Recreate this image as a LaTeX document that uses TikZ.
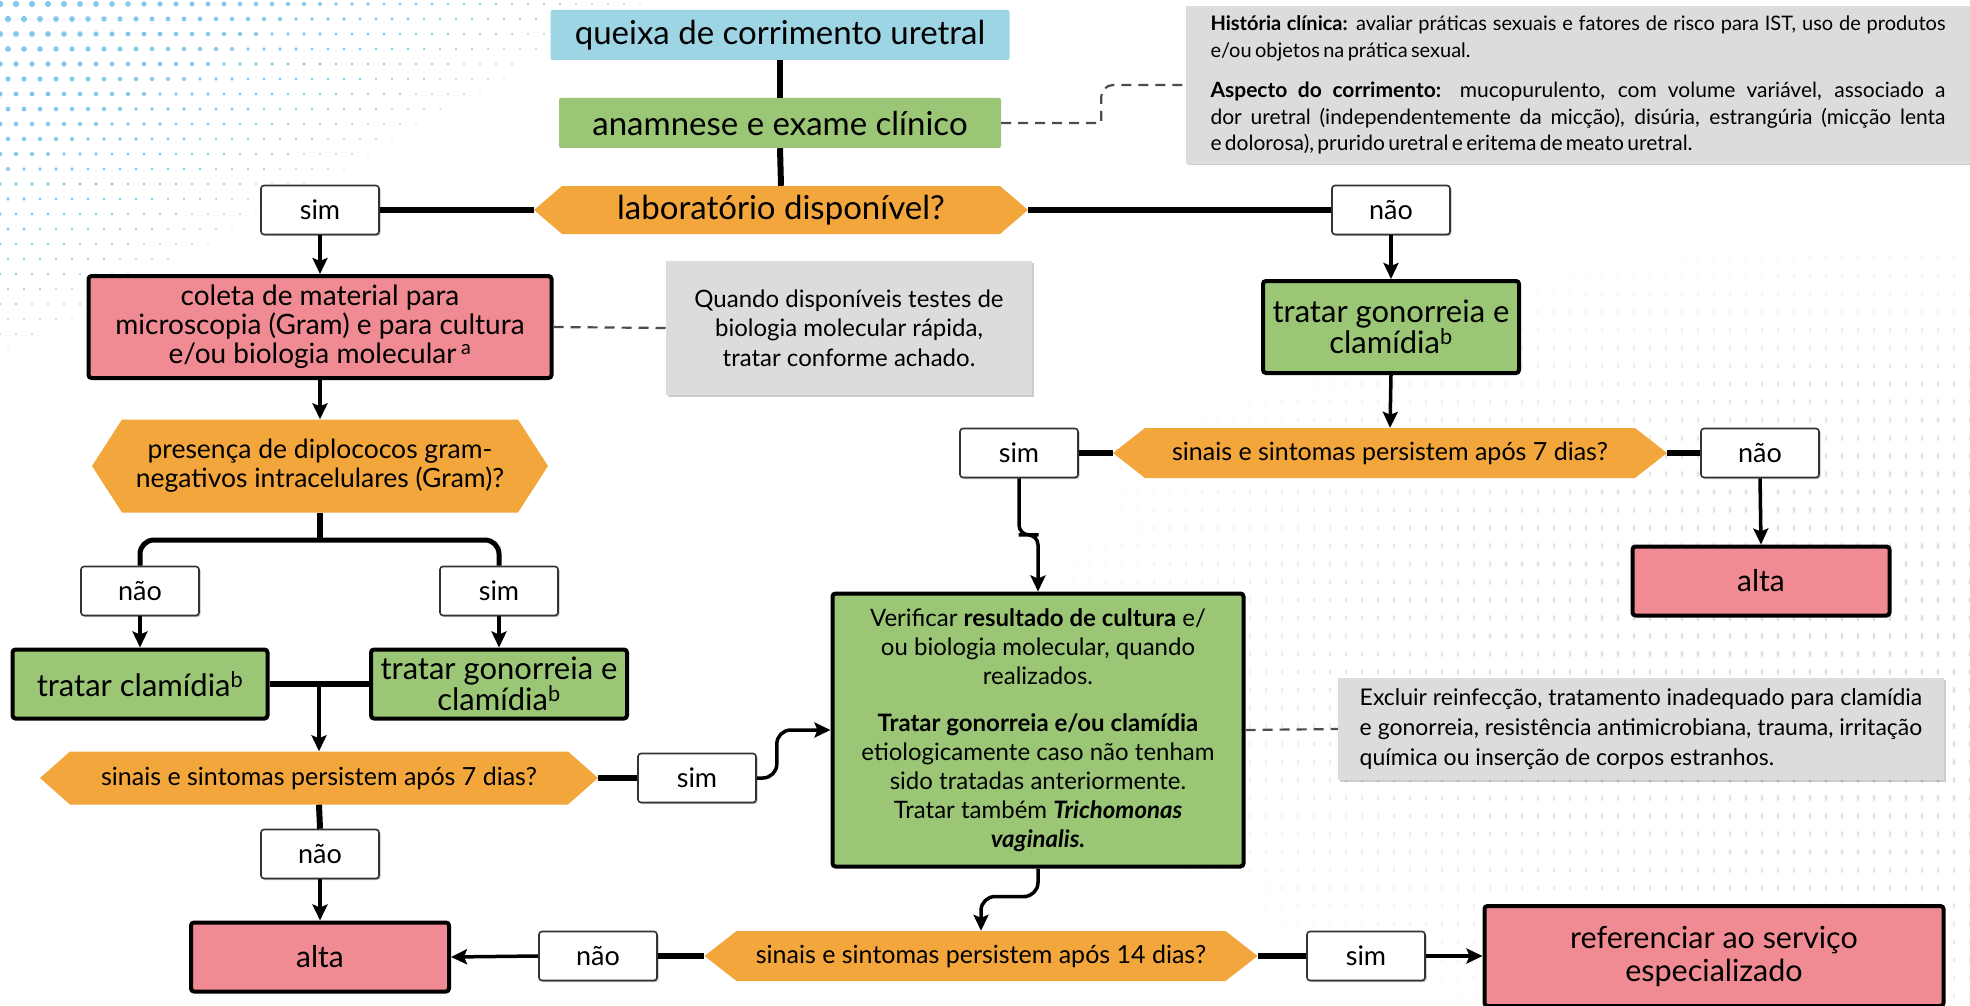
\documentclass[tikz,border=0pt]{standalone}
\usepackage{fontspec}
\setmainfont{Lato}
\usetikzlibrary{arrows.meta,calc,shadows}
\definecolor{cBlue}{RGB}{157,213,228}
\definecolor{cGreen}{RGB}{155,198,117}
\definecolor{cOrange}{RGB}{243,166,60}
\definecolor{cPink}{RGB}{241,139,147}
\definecolor{cGray}{RGB}{220,220,220}
\definecolor{cDot}{RGB}{120,195,238}
\newcommand\myfs[2]{\fontsize{#1pt}{#2pt}\selectfont}
\newcommand\jline[1]{\makebox[735pt][s]{\spaceskip=0pt\relax\xspaceskip=0pt\relax #1}}
\tikzset{
  base/.style={align=center, inner sep=0pt, text=black},
  flatbox/.style={base, rounded corners=2pt},
  box/.style={base, draw=black, line width=4pt, rounded corners=3pt},
  lbl/.style={base, draw=black!80, line width=1.6pt, fill=white, rounded corners=3pt,
    minimum width=118pt, minimum height=49pt, font=\myfs{27}{30},
    drop shadow={shadow xshift=1.5pt, shadow yshift=-1.5pt, opacity=0.25, fill=black}},
  note/.style={base, fill=cGray, drop shadow={shadow xshift=1.5pt, shadow yshift=-1.5pt, opacity=0.2, fill=black}},
  hexnode/.style={base, path picture={\fill[cOrange]
    (path picture bounding box.west) -- ([xshift=#1]path picture bounding box.north west)
    -- ([xshift=-#1]path picture bounding box.north east) -- (path picture bounding box.east)
    -- ([xshift=-#1]path picture bounding box.south east) -- ([xshift=#1]path picture bounding box.south west) -- cycle;}},
  con/.style={line width=6pt},
  arr/.style={line width=3.5pt, -{Stealth[length=16pt, width=15pt, inset=3pt]}},
  dsh/.style={line width=2.2pt, dash pattern=on 10pt off 7pt, black!70},
}
\begin{document}
\begin{tikzpicture}[x=1pt,y=-1pt]
\useasboundingbox (0,0) rectangle (1970,1006);
\fill[white] (0,0) rectangle (1970,1006);
% background dots (top left, blue)
\foreach \i in {0,...,40}{\foreach \j in {0,...,24}{
  \pgfmathsetmacro\px{\i*16+mod(\j,2)*8}
  \pgfmathsetmacro\py{4+\j*15}
  \pgfmathsetmacro\dd{\px/650+\py/360}
  \ifdim\dd pt<1pt
    \pgfmathsetmacro\rr{0.7+2.6*(1-\dd)}
    \fill[cDot, opacity=0.9] (\px,\py) circle (\rr);
  \fi}}
% background dots (right, gray)
\foreach \i in {0,...,60}{\foreach \j in {0,...,43}{
  \pgfmathsetmacro\px{1010+\i*16}
  \pgfmathsetmacro\py{240+\j*18}
  \pgfmathsetmacro\dd{((1970-\px)/950)^2+((\py-650)/430)^2}
  \ifdim\dd pt<1pt
    \pgfmathsetmacro\op{0.55*(1-\dd)}
    \fill[black!25, opacity=\op] (\px,\py) ellipse (1.3 and 3.2);
  \fi}}

% ---------- nodes ----------
\node[flatbox, fill=cBlue, minimum width=459pt, minimum height=50pt, font=\myfs{33}{38}] (A) at (780,35) {queixa de corrimento uretral};
\node[flatbox, fill=cGreen, minimum width=442pt, minimum height=50pt, font=\myfs{33}{38}] (B) at (780,123) {anamnese e exame clínico};
\node[hexnode=28pt, minimum width=494pt, minimum height=48pt, font=\myfs{33}{38}] (C) at (781,210) {laboratório disponível?};
\node[lbl] (sim1) at (320,210) {sim};
\node[lbl] (nao1) at (1391,210) {não};

\node[note, text width=735pt, align=left, inner xsep=24.5pt, minimum height=157pt] (hist) at (1578,85) {%
  {\myfs{20}{27}\jline{\textbf{História clínica:} avaliar práticas sexuais e fatores de risco para IST, uso de produtos}\\
  e/ou objetos na prática sexual.\par}\vspace{14pt}
  {\myfs{21}{26.5}\jline{\textbf{Aspecto do corrimento:} mucopurulento, com volume variável, associado a}\\
  \jline{dor uretral (independentemente da micção), disúria, estrangúria (micção lenta}\\
  e dolorosa), prurido uretral e eritema de meato uretral.\par}};

\node[box, fill=cPink, minimum width=463pt, minimum height=102pt, font=\myfs{28}{29}] (D) at (320,327)
  {coleta de material para\\microscopia (Gram) e para cultura\\e/ou biologia molecular\,\textsuperscript{a}};
\node[note, minimum width=366pt, minimum height=134pt, font=\myfs{24}{29.5}] (n1) at (849,328)
  {Quando disponíveis testes de\\biologia molecular rápida,\\tratar conforme achado.};
\node[hexnode=30pt, minimum width=456pt, minimum height=93pt, font=\myfs{26.5}{29}] (E) at (320,466)
  {presença de diplococos gram-\\negativos intracelulares (Gram)?};
\node[lbl] (nao2) at (140,591) {não};
\node[lbl] (sim2) at (499,591) {sim};
\node[box, fill=cGreen, minimum width=255pt, minimum height=69pt, font=\myfs{31}{31}] (F) at (140,684) {tratar clamídia\textsuperscript{b}};
\node[box, fill=cGreen, minimum width=256pt, minimum height=69pt, font=\myfs{31}{31}] (G) at (499,684) {tratar gonorreia e\\clamídia\textsuperscript{b}};
\node[hexnode=30pt, minimum width=558pt, minimum height=53pt, font=\myfs{25}{28}] (H) at (319,778) {sinais e sintomas persistem após 7 dias?};
\node[lbl] (sim3) at (697,778) {sim};
\node[lbl] (nao3) at (320,854) {não};
\node[box, fill=cPink, minimum width=258pt, minimum height=69pt, font=\myfs{30}{31}] (alta1) at (320,957) {alta};

\node[box, fill=cGreen, minimum width=411pt, minimum height=273pt, font=\myfs{24}{29}] (I) at (1038,730)
  {Verificar \textbf{resultado de cultura} e/\\ou biologia molecular, quando\\realizados.\\[18pt]%
   \textbf{Tratar gonorreia e/ou clamídia}\\etiologicamente caso não tenham\\sido tratadas anteriormente.\\%
   Tratar também \textbf{\textit{Trichomonas}}\\\textbf{\textit{vaginalis.}}};
\node[note, align=left, minimum width=606pt, minimum height=102pt, font=\myfs{23}{30}] (ex) at (1641,729)
  {Excluir reinfecção, tratamento inadequado para clamídia\\e gonorreia, resistência antimicrobiana, trauma, irritação\\química ou inserção de corpos estranhos.};

\node[box, fill=cGreen, minimum width=256pt, minimum height=92pt, font=\myfs{31}{31}] (J) at (1391,327) {tratar gonorreia e\\clamídia\textsuperscript{b}};
\node[hexnode=32pt, minimum width=554pt, minimum height=50pt, font=\myfs{25}{28}] (K) at (1390,453) {sinais e sintomas persistem após 7 dias?};
\node[lbl] (sim4) at (1019,453) {sim};
\node[lbl] (nao4) at (1760,453) {não};
\node[box, fill=cPink, minimum width=257pt, minimum height=69pt, font=\myfs{30}{31}] (alta2) at (1761,581) {alta};

\node[hexnode=32pt, minimum width=553pt, minimum height=50pt, font=\myfs{25}{28}] (L) at (981,956) {sinais e sintomas persistem após 14 dias?};
\node[lbl] (nao5) at (598,956) {não};
\node[lbl] (sim5) at (1366,956) {sim};
\node[box, fill=cPink, minimum width=459pt, minimum height=100pt, font=\myfs{30.5}{33}] (M) at (1714,956) {referenciar ao serviço\\especializado};

% ---------- connectors ----------
\draw[con] (A.south) -- (B.north);
\draw[con] (B.south) -- (C.north);
\draw[con] (C.west) -- (sim1.east);
\draw[con] (C.east) -- (nao1.west);
\draw[arr] (sim1.south) -- (D.north);
\draw[arr] (nao1.south) -- (J.north);
\draw[dsh] (B.east) -- ++(100,0) [rounded corners=12pt] |- (hist.west);
\draw[dsh] (D.east) -- (n1.west);
\draw[arr] (D.south) -- (E.north);
\coordinate (br) at (320,540);
\draw[con] (E.south) -- (br);
\draw[line width=5pt, rounded corners=14pt] (nao2.north) |- (br) -| (sim2.north);
\draw[arr] (nao2.south) -- (F.north);
\draw[arr] (sim2.south) -- (G.north);
\draw[con] (F.east) -- (G.west);
\draw[arr] (F.east -| H.north) -- (H.north);
\draw[con] (H.east) -- (sim3.west);
\draw[arr, rounded corners=14pt] (sim3.east) -- ++(20,0) |- (I.west);
\draw[con] (H.south) -- (nao3.north);
\draw[arr] (nao3.south) -- (alta1.north);
\draw[dsh] (I.east) -- (ex.west);
\draw[arr] (J.south) -- (K.north);
\draw[con] (K.west) -- (sim4.east);
\draw[con] (K.east) -- (nao4.west);
\draw[arr] (nao4.south) -- (alta2.north);
\draw[arr, rounded corners=10pt] (sim4.south) |- ($(sim4.south)!0.5!(I.north)$) -| (I.north);
\draw[arr, rounded corners=14pt] (I.south) |- ($(I.south)!0.45!(L.north)$) -| (L.north);
\draw[con] (L.west) -- (nao5.east);
\draw[arr] (nao5.west) -- (alta1.east);
\draw[con] (L.east) -- (sim5.west);
\draw[arr] (sim5.east) -- (M.west);
\end{tikzpicture}
\end{document}
